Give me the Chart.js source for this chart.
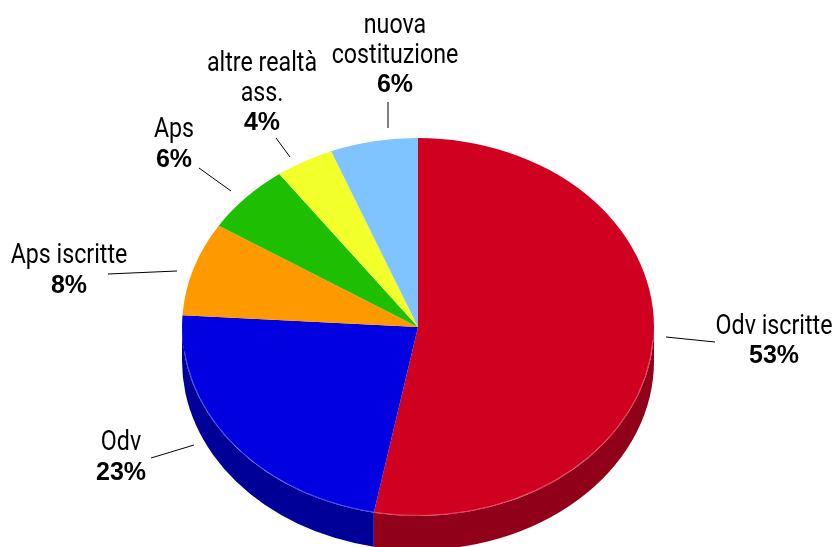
<!DOCTYPE html>
<html>
<head>
<meta charset="utf-8">
<title>Tipologia</title>
<script src="https://cdn.jsdelivr.net/npm/chart.js@4"></script>
<style>
  html, body { margin: 0; padding: 0; background: #fff; }
  #wrap { position: relative; width: 835px; height: 547px; overflow: hidden; }
</style>
</head>
<body>
<div id="wrap"><canvas id="pie" width="835" height="547"></canvas></div>
<script>
const categories = ['Odv iscritte', 'Odv', 'Aps iscritte', 'Aps', 'altre realtà ass.', 'nuova costituzione'];
const shares = [53, 23, 8, 6, 4, 6];
const topColors = ['#D00021', '#0000E0', '#FF9900', '#1EBF00', '#F2FF2A', '#80C4FF'];
const sideColors = ['#900018', '#000099', '#B06A00', '#148400', '#A8B01D', '#5888B0'];

// text lines and leader for each slice: cx = centre of the block, ys = baselines
const labelLayout = [
  { lines: ['Odv iscritte'], cx: 774, ys: [334, 363], leader: [666, 337, 715, 342] },
  { lines: ['Odv'], cx: 121, ys: [450, 480], leader: [151, 458, 194, 445] },
  { lines: ['Aps iscritte'], cx: 69, ys: [263, 293], leader: [108, 274, 177, 271] },
  { lines: ['Aps'], cx: 174, ys: [137, 167], leader: [199, 168, 231, 191] },
  { lines: ['altre realtà', 'ass.'], cx: 262, ys: [71, 101, 130], leader: [276, 138, 290, 157] },
  { lines: ['nuova', 'costituzione'], cx: 395, ys: [33, 63, 92], leader: [388, 102, 388, 128] }
];

const centerX = 418, centerY = 327, squash = 189 / 236, depth = 34;
const nameWidthScale = 0.86;

// the pie is a flat circle for the library, so tilt it while the datasets draw
const tiltPlugin = {
  id: 'tilt',
  beforeDatasetsDraw(chart) {
    const arcs = chart.getDatasetMeta(0).data;
    const ctx = chart.ctx;
    const rx = arcs[0].outerRadius, ry = rx * squash;
    ctx.save();
    arcs.forEach((arc, i) => {
      const from = Math.max(arc.startAngle, 0);
      const to = Math.min(arc.endAngle, Math.PI);
      if (to <= from) return;
      ctx.beginPath();
      ctx.ellipse(centerX, centerY, rx, ry, 0, from, to);
      ctx.ellipse(centerX, centerY + depth, rx, ry, 0, to, from, true);
      ctx.closePath();
      ctx.fillStyle = sideColors[i];
      ctx.fill();
    });
    ctx.restore();
    const first = arcs[0];
    ctx.save();
    ctx.translate(centerX, centerY);
    ctx.scale(1, squash);
    ctx.translate(-first.x, -first.y);
  },
  afterDatasetsDraw(chart) {
    const ctx = chart.ctx;
    ctx.restore();
    // thin light edge where the top face meets the wall
    const arcs = chart.getDatasetMeta(0).data;
    const rx = arcs[0].outerRadius, ry = rx * squash;
    ctx.save();
    ctx.beginPath();
    ctx.ellipse(centerX, centerY, rx - 0.5, ry - 0.5, 0, 0.07, Math.PI - 0.13);
    ctx.strokeStyle = 'rgba(255,255,255,0.3)';
    ctx.lineWidth = 1;
    ctx.stroke();
    ctx.restore();
  }
};

const labelPlugin = {
  id: 'sliceLabels',
  afterDraw(chart) {
    const ctx = chart.ctx;
    ctx.save();
    ctx.textAlign = 'center';
    ctx.textBaseline = 'alphabetic';
    ctx.fillStyle = '#000';
    labelLayout.forEach((item, i) => {
      ctx.font = '400 27px Roboto, "Liberation Sans", sans-serif';
      item.lines.forEach((line, n) => {
        ctx.save();
        ctx.translate(item.cx, item.ys[n]);
        ctx.scale(nameWidthScale, 1);
        ctx.fillText(line, 0, 0);
        ctx.restore();
      });
      ctx.font = 'bold 25px "Liberation Sans", sans-serif';
      ctx.fillText(shares[i] + '%', item.cx, item.ys[item.lines.length]);
      const l = item.leader;
      ctx.beginPath();
      ctx.moveTo(l[0], l[1]);
      ctx.lineTo(l[2], l[3]);
      ctx.strokeStyle = '#000';
      ctx.lineWidth = 1;
      ctx.stroke();
    });
    ctx.restore();
  }
};

new Chart(document.getElementById('pie'), {
  type: 'pie',
  data: {
    labels: categories,
    datasets: [{ data: shares, backgroundColor: topColors, borderWidth: 0 }]
  },
  options: {
    responsive: false,
    animation: false,
    layout: { padding: { top: 37.5, bottom: 37.5 } },
    plugins: { legend: { display: false }, tooltip: { enabled: false } }
  },
  plugins: [tiltPlugin, labelPlugin]
});
</script>
</body>
</html>
